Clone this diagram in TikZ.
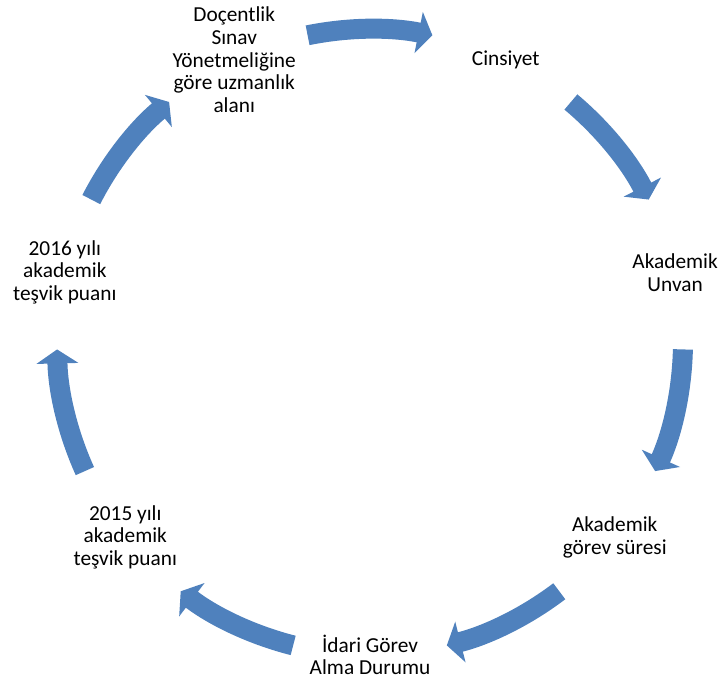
\documentclass[tikz,border=0pt]{standalone}
\usepackage{fontspec}
\setmainfont{Carlito}
\usetikzlibrary{arrows.meta}
\definecolor{CycleBlue}{RGB}{79,129,189}

\begin{document}
\begin{tikzpicture}[x=0.75pt,y=0.75pt,
    item/.style={align=center,font=\fontsize{16}{17}\selectfont,text=black,inner sep=0pt},
    cyc/.style={CycleBlue,line width=15pt,-{Triangle[length=10.5pt,width=31pt]}}]
  \useasboundingbox (-370,-340) rectangle (352,342);

  % Items on the circle
  \foreach \ang/\nm/\txt in {115.71/doc/{Doçentlik\\Sınav\\Yönetmeliğine\\göre uzmanlık\\alanı},
                             64.29/cins/{Cinsiyet},
                             12.86/unvan/{Akademik\\Unvan},
                             -38.57/sure/{Akademik\\görev süresi},
                             -90/idari/{İdari Görev\\Alma Durumu},
                             -141.43/p2015/{2015 yılı\\akademik\\teşvik puanı},
                             167.14/p2016/{2016 yılı\\akademik\\teşvik puanı}}
    \node[item] (\nm) at (\ang:313) {\txt};

  % Cycle arrows
  \foreach \i/\mid in {1/90, 2/38.57, 3/-12.86, 4/-64.29, 5/-115.71, 6/-167.14, 7/141.43}{
    \coordinate (a\i) at ({\mid+11.5}:313);
    \draw[cyc] (a\i) arc[start angle=\mid+11.5, end angle=\mid-11.5, radius=313];
  }
\end{tikzpicture}
\end{document}
